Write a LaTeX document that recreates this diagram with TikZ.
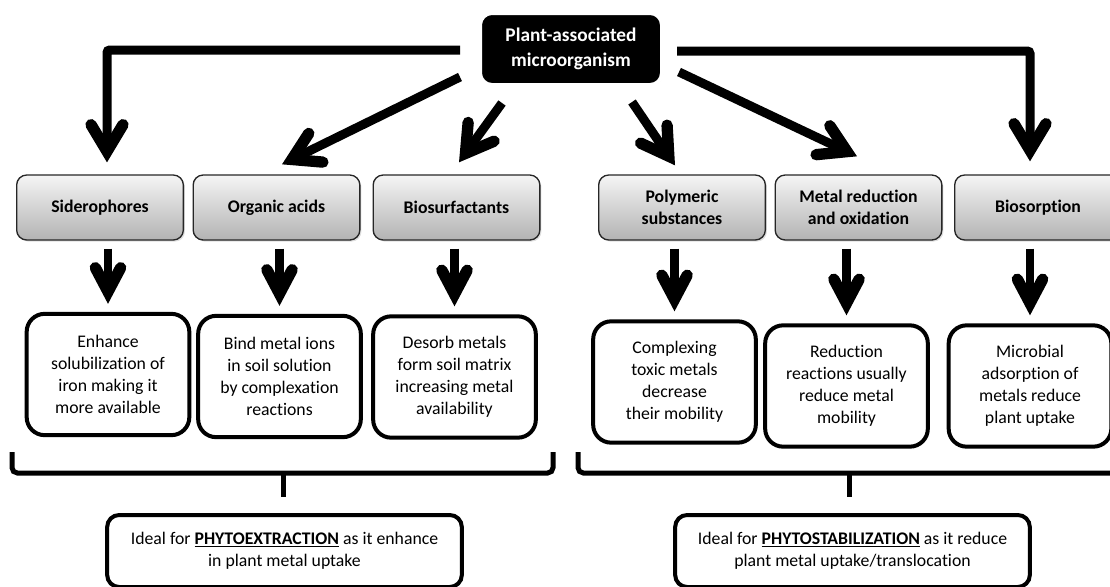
\documentclass[tikz,border=0pt]{standalone}
\usepackage{fontspec}
\setmainfont{Carlito}[Ligatures=NoCommon]
\usetikzlibrary{arrows.meta,calc,shadows}

\newcommand{\boxfont}{\fontsize{13.3}{16.5}\selectfont}

\tikzset{
  topbox/.style={fill=black, draw=white, line width=3pt, rounded corners=9pt,
    minimum width=136.5pt, minimum height=54pt, text=white, align=center,
    font=\bfseries\fontsize{14.5}{18.75}\selectfont,
    drop shadow={shadow xshift=0.8pt, shadow yshift=-0.8pt, opacity=0.3}},
  catbox/.style={draw=black!85, line width=1pt, rounded corners=7.5pt,
    top color=black!4, bottom color=black!30, minimum width=125pt,
    minimum height=48.75pt, font=\bfseries\boxfont, align=center,
    drop shadow={shadow xshift=1.2pt, shadow yshift=-1.2pt, opacity=0.25}},
  descbox/.style={draw, line width=3pt, rounded corners=13.5pt, fill=white,
    minimum width=122pt, minimum height=91pt, font=\boxfont, align=center},
  idealbox/.style={draw, line width=3pt, rounded corners=9pt, fill=white,
    minimum width=266pt, minimum height=54pt, font=\boxfont, align=center},
  bigarrow/.style={line width=6.75pt, rounded corners=2pt,
    -{Straight Barb[length=20pt, width=24pt, line width=8.5pt, line cap=round]}},
  smallarrow/.style={line width=6.5pt,
    -{Straight Barb[length=18pt, width=19pt, line width=8.5pt, line cap=round]}},
  brace/.style={line width=3.75pt, rounded corners=4pt},
}

\begin{document}
\begin{tikzpicture}[x=0.75pt, y=-0.75pt]
    \useasboundingbox (0,0) rectangle (1110,586);
    \clip (0,0) rectangle (1110,586);

    % Source.
    \node[topbox] (micro) at (571,49) {Plant-associated\\microorganism};

    % Mechanisms.
    \node[catbox] (sidero)  at (100,207.5)  {Siderophores};
    \node[catbox] (acids)   at (276.5,207.5) {Organic acids};
    \node[catbox] (surfact) at (456.5,207.5) {Biosurfactants};
    \node[catbox] (polym)   at (682,207.5)  {Polymeric\\substances};
    \node[catbox] (redox)   at (858.5,207.5) {Metal reduction\\and oxidation};
    \node[catbox] (sorpt)   at (1038,207.5) {Biosorption};

    % Effects.
    \node[descbox] (iron)    at (108,374.5)  {Enhance\\solubilization of\\iron making it\\more available};
    \node[descbox] (bind)    at (279.5,376.5) {Bind metal ions\\in soil solution\\by complexation\\reactions};
    \node[descbox] (desorb)  at (454.5,377)  {Desorb metals\\form soil matrix\\increasing metal\\availability};
    \node[descbox] (complex) at (674.5,382)  {Complexing\\toxic metals\\decrease\\their mobility};
    \node[descbox] (reduce)  at (846.5,386)  {Reduction\\reactions usually\\reduce metal\\mobility};
    \node[descbox] (adsorb)  at (1030,386)   {Microbial\\adsorption of\\metals reduce\\plant uptake};

    % Outcomes.
    \node[idealbox] (extract) at (284.5,551) {Ideal for \underline{\textbf{PHYTOEXTRACTION}} as it enhance\\in plant metal uptake};
    \node[idealbox] (stabil)  at (852.5,551) {Ideal for \underline{\textbf{PHYTOSTABILIZATION}} as it reduce\\plant metal uptake/translocation};

    % Arrows from the microorganism.
    \draw[bigarrow] ($(micro.west)+(-18,1)$) -| ($(sidero.north)+(7,-12)$);
    \draw[bigarrow] ($(micro.west)+(-18,28)$) -- ($(acids.north)+(5.5,-10)$);
    \draw[bigarrow] ($(micro.south)+(-69,16)$) -- ($(surfact.north)+(2.5,-12)$);
    \draw[bigarrow] ($(micro.south)+(61,15)$) -- ($(polym.north)+(-7,-9)$);
    \draw[bigarrow] ($(micro.east)+(15,23)$) -- ($(redox.north)+(-1.5,-18)$);
    \draw[bigarrow] ($(micro.east)+(13,2)$) -| ($(sorpt.north)+(-8,-13)$);

    % Arrows to the effects.
    \foreach \src/\dst in {sidero/iron, acids/bind, surfact/desorb,
                           polym/complex, redox/reduce, sorpt/adsorb}
      \draw[smallarrow] ($(\src.south -| \dst.north)+(0,8)$) -- ($(\dst.north)+(0,-8)$);

    % Braces.
    \coordinate (xtick) at (283.5,473);
    \coordinate (stick) at (849,473);
    \draw[brace] (12,452) |- (553,473) -- (553,452);
    \draw[brace] (xtick) -- ++(0,24);
    \draw[brace] (578,452) |- (1120,473) -- (1120,452);
    \draw[brace] (stick) -- ++(0,24);

\end{tikzpicture}
\end{document}
